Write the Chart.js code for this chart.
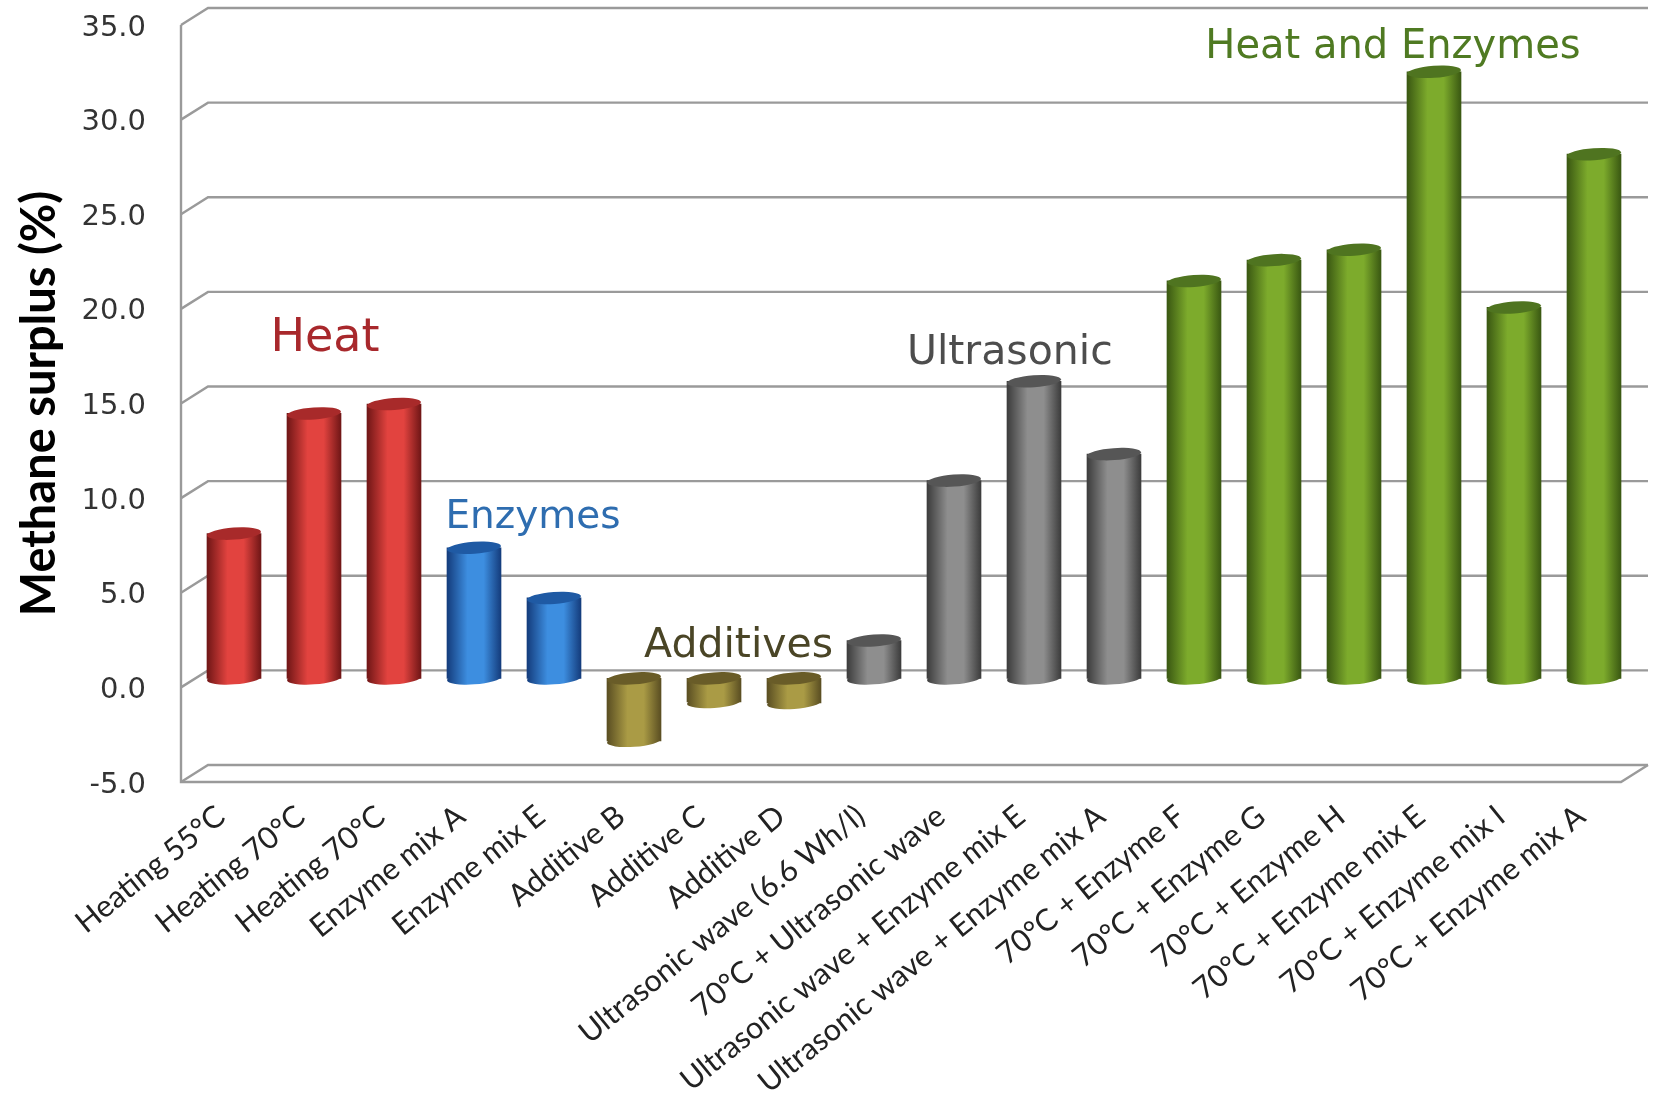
<!DOCTYPE html>
<html>
<head>
<meta charset="utf-8">
<style>
  html, body { margin:0; padding:0; background:#fff; }
  canvas { display:block; }
</style>
<script src="https://cdn.jsdelivr.net/npm/chart.js@4"></script>
</head>
<body>
<canvas id="myChart" width="1654" height="1095"></canvas>
<script>
const categories = ["Heating 55°C","Heating 70°C","Heating 70°C","Enzyme mix A","Enzyme mix E",
  "Additive B","Additive C","Additive D","Ultrasonic wave (6.6 Wh/l)","70°C + Ultrasonic wave",
  "Ultrasonic wave + Enzyme mix E","Ultrasonic wave + Enzyme mix A","70°C + Enzyme F","70°C + Enzyme G",
  "70°C + Enzyme H","70°C + Enzyme mix E","70°C + Enzyme mix I","70°C + Enzyme mix A"];
const surplus = [7.65,14.0,14.5,6.9,4.25,-3.3,-1.25,-1.3,2.0,10.45,15.7,11.85,21.0,22.1,22.65,32.05,19.6,27.7];
const barGroup = [0,0,0,1,1,2,2,2,3,3,3,3,4,4,4,4,4,4];

const groupNames = ["Heat","Enzymes","Additives","Ultrasonic","Heat and Enzymes"];
const groupAnchorCat = [1.3,3.9,6.47,9.86,14.65];
const groupAnchorVal = [18.43,8.93,2.15,17.63,33.83];
const groupFontSize = [46,39,41,41,40];
const groupText = ["#a8282c","#2e6db0","#4a4526","#4d4d4d","#4f7a22"];
const barEdge = ["#701616","#143c7c","#5a4e22","#3c3c3c","#3a5812"];
const barMid = ["#e2433f","#3d8ee0","#aa9b45","#8e8e8e","#7dab2c"];
const barCap = ["#a82a2a","#1f5aa4","#695c28","#565656","#4f7420"];

// the bars stand in the middle of the floor, the axes on its front edge
const plotTop = 25;
const midDx = 13, midDy = -9;
const backDx = 27, backDy = -17;
const capRy = 6, capTilt = -0.07;

function barGradient(ctx) {
  const chart = ctx.chart, i = ctx.dataIndex;
  if (i === undefined) return "#888";
  const x = chart.scales.x.getPixelForValue(i), w = 27;
  if (!isFinite(x)) return barMid[barGroup[i]];
  const g = chart.ctx.createLinearGradient(x - w, 0, x + w, 0);
  const grp = barGroup[i];
  g.addColorStop(0, barEdge[grp]);
  g.addColorStop(0.38, barMid[grp]);
  g.addColorStop(0.68, barMid[grp]);
  g.addColorStop(1, barEdge[grp]);
  return g;
}

const frame3d = {
  id: "frame3d",
  afterLayout(chart) {
    // layout keeps the top of the value axis too low, so stretch it by hand
    const y = chart.scales.y, area = chart.chartArea;
    y.top = plotTop;
    y.height = y.bottom - plotTop;
    y.configure();
    area.top = plotTop;
    area.height = area.bottom - plotTop;
  },
  beforeDatasetsDraw(chart) {
    const c = chart.ctx, { x, y } = chart.scales, area = chart.chartArea;
    c.save();
    c.strokeStyle = "#9a9a9a";
    c.lineWidth = 2.4;
    c.lineJoin = "miter";
    y.ticks.forEach(t => {
      const py = y.getPixelForValue(t.value);
      c.beginPath();
      c.moveTo(area.left, py);
      c.lineTo(area.left + backDx, py + backDy);
      c.lineTo(area.right + backDx, py + backDy);
      c.stroke();
    });
    c.beginPath();
    c.moveTo(area.left, y.getPixelForValue(y.max));
    c.lineTo(area.left, area.bottom);
    c.lineTo(area.right, area.bottom);
    c.lineTo(area.right + backDx, area.bottom + backDy);
    c.stroke();
    c.restore();
    // shift the bars back; restored after the caps are on
    c.save();
    c.translate(midDx, midDy);
  },
  afterDatasetsDraw(chart) {
    const c = chart.ctx;
    chart.getDatasetMeta(0).data.forEach((bar, i) => {
      const p = bar.getProps(["x","y","base","width"], true);
      const top = Math.min(p.y, p.base), bot = Math.max(p.y, p.base);
      const rx = p.width / 2;
      c.fillStyle = barGradient({ chart, dataIndex: i });
      c.beginPath();
      c.ellipse(p.x, bot, rx, capRy, capTilt, 0, Math.PI * 2);
      c.fill();
      c.fillStyle = barCap[barGroup[i]];
      c.beginPath();
      c.ellipse(p.x, top, rx, capRy, capTilt, 0, Math.PI * 2);
      c.fill();
    });
    c.restore();
    c.save();
    c.textAlign = "center";
    c.textBaseline = "middle";
    groupNames.forEach((name, g) => {
      c.fillStyle = groupText[g];
      c.font = groupFontSize[g] + 'px "DejaVu Sans"';
      c.fillText(name, chart.scales.x.getPixelForValue(groupAnchorCat[g]), chart.scales.y.getPixelForValue(groupAnchorVal[g]));
    });
    c.restore();
  }
};

const myChart = new Chart("myChart", {
  type: "bar",
  data: {
    labels: categories,
    datasets: [{
      label: "Methane surplus",
      data: surplus,
      backgroundColor: barGradient,
      borderWidth: 0,
      barThickness: 54,
      clip: false
    }]
  },
  options: {
    responsive: false,
    animation: false,
    layout: { autoPadding: false, padding: { top: 25, right: 33, left: 0, bottom: 0 } },
    plugins: { legend: { display: false }, title: { display: false }, tooltip: { enabled: false } },
    scales: {
      x: {
        grid: { display: false },
        border: { display: false },
        afterFit: s => { s.height = 313; },
        ticks: {
          autoSkip: false,
          minRotation: 39,
          maxRotation: 39,
          padding: 8,
          color: "#222",
          font: { family: "Lato", size: 30.5 }
        }
      },
      y: {
        min: -5,
        max: 35,
        afterFit: s => { s.width = 181; },
        grid: { display: false },
        border: { display: false },
        title: {
          display: true,
          text: "Methane surplus (%)",
          color: "#000",
          padding: { top: 12, bottom: 0 },
          font: { family: "Lato", size: 47, weight: "bold" }
        },
        ticks: {
          stepSize: 5,
          padding: 27,
          labelOffset: 3,
          color: "#333",
          callback: v => v.toFixed(1),
          font: { family: "DejaVu Sans", size: 29 }
        }
      }
    }
  },
  plugins: [frame3d]
});
</script>
</body>
</html>
